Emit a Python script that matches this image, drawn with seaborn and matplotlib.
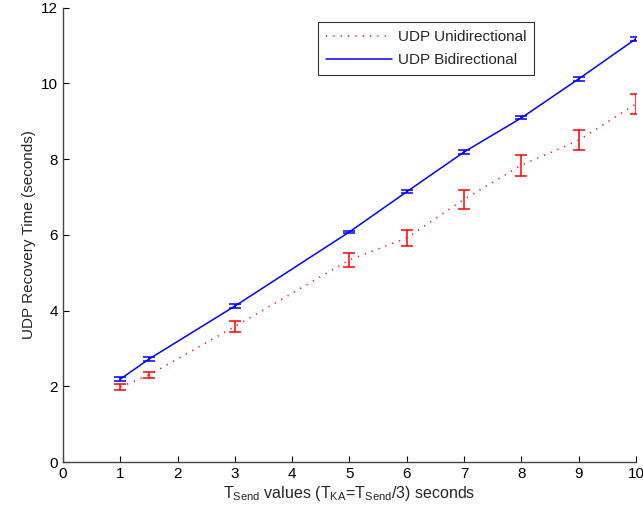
import numpy as np
import pandas as pd
import matplotlib
matplotlib.use("Agg")
import matplotlib.pyplot as plt
import seaborn as sns

# Data
t_send = [1, 1.5, 3, 5, 6, 7, 8, 9, 10]
uni_mean = [1.98, 2.30, 3.58, 5.34, 5.92, 6.94, 7.84, 8.50, 9.46]
uni_err = [0.07, 0.08, 0.15, 0.19, 0.21, 0.25, 0.28, 0.27, 0.26]
bi_mean = [2.19, 2.72, 4.12, 6.08, 7.14, 8.19, 9.09, 10.12, 11.18]
bi_err = [0.05, 0.05, 0.05, 0.03, 0.04, 0.04, 0.04, 0.05, 0.05]

df = pd.DataFrame({
    "T_send": t_send * 2,
    "time": uni_mean + bi_mean,
    "err": uni_err + bi_err,
    "mode": ["UDP Unidirectional"] * len(t_send) + ["UDP Bidirectional"] * len(t_send),
})

sns.set_style("ticks")
plt.rcParams["font.family"] = ["Liberation Sans", "DejaVu Sans"]
plt.rcParams["mathtext.default"] = "regular"

fig = plt.figure(figsize=(6.43, 5.18), dpi=100)
ax = fig.add_axes([0.098, 0.108, 0.891, 0.877])

colors = {"UDP Unidirectional": "#ff0000", "UDP Bidirectional": "#0000ff"}
styles = {"UDP Unidirectional": (0, (0.8, 4)), "UDP Bidirectional": "-"}

for mode in ["UDP Unidirectional", "UDP Bidirectional"]:
    sub = df[df["mode"] == mode]
    sns.lineplot(data=sub, x="T_send", y="time", ax=ax, color=colors[mode],
                 linestyle=styles[mode], linewidth=1.1, label=mode)
    ax.errorbar(sub["T_send"], sub["time"], yerr=sub["err"], fmt="none",
                ecolor=colors[mode], elinewidth=1.1, capsize=4, capthick=1.1)

ax.set_xlim(0, 10)
ax.set_ylim(0, 12)
ax.set_xticks(range(0, 11))
ax.set_yticks(range(0, 13, 2))
ax.tick_params(direction="in", length=4, labelsize=11, colors="black")
for s in ["left", "bottom"]:
    ax.spines[s].set_color("#444444")
    ax.spines[s].set_linewidth(1.0)
sns.despine(ax=ax)

ax.set_xlabel(r"T$_{Send}$ values (T$_{KA}$=T$_{Send}$/3) seconds", fontsize=11.5, labelpad=2)
ax.set_ylabel("UDP Recovery Time (seconds)", fontsize=11)

leg = ax.legend(loc="upper right", bbox_to_anchor=(0.835, 0.985), frameon=True,
                fancybox=False, edgecolor="black", fontsize=11, handlelength=4.3,
                borderpad=0.5, labelspacing=0.6, handletextpad=0.4)
leg.get_frame().set_linewidth(0.8)

fig.savefig("out.png", dpi=100)
